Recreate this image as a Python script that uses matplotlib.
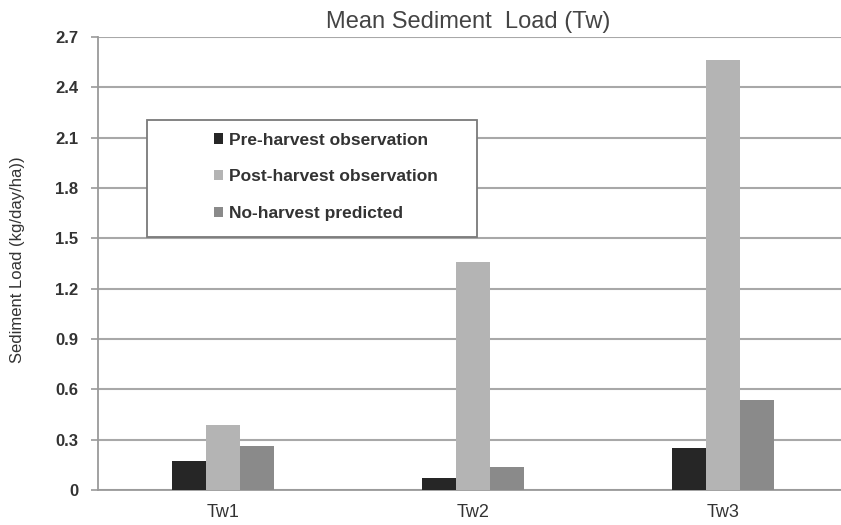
import numpy as np
import matplotlib.pyplot as plt
from matplotlib.patches import Rectangle

plt.rcParams['font.family'] = ['Liberation Sans', 'DejaVu Sans']

categories = ['Tw1', 'Tw2', 'Tw3']
series_names = ['Pre-harvest observation', 'Post-harvest observation', 'No-harvest predicted']
pre_harvest = [0.175, 0.07, 0.25]
post_harvest = [0.387, 1.36, 2.563]
no_harvest = [0.262, 0.139, 0.536]
yticks = [0, 0.3, 0.6, 0.9, 1.2, 1.5, 1.8, 2.1, 2.4, 2.7]
ytick_labels = ['0', '0.3', '0.6', '0.9', '1.2', '1.5', '1.8', '2.1', '2.4', '2.7']

colors = ['#262626', '#b4b4b4', '#8a8a8a']

W, H = 841, 525
fig = plt.figure(figsize=(W / 100, H / 100), dpi=100)
ax = fig.add_axes([98 / W, 35 / H, 750 / W, 453 / H])

x = np.arange(len(categories))
bw = 0.137
for i, vals in enumerate([pre_harvest, post_harvest, no_harvest]):
    ax.bar(x + (i - 1) * bw, vals, width=bw, color=colors[i],
           label=series_names[i], zorder=3)

ax.set_xlim(-0.5, 2.5)
ax.set_ylim(0, 2.7)
ax.set_yticks(yticks)
ax.set_yticklabels(ytick_labels, fontsize=12, fontweight='bold', color='#333333')
ax.set_xticks(x)
ax.set_xticklabels(categories, fontsize=13, color='#333333')
ax.tick_params(axis='x', length=0, pad=10)
ax.tick_params(axis='y', length=5, width=1.2, color='#9a9a9a', pad=9)
ax.grid(axis='y', color='#a8a8a8', linewidth=1.5, zorder=0)

for s in ['top', 'right']:
    ax.spines[s].set_visible(False)
for s in ['left', 'bottom']:
    ax.spines[s].set_color('#9a9a9a')
    ax.spines[s].set_linewidth(1.3)

fig.text(18 / W, 1 - 260 / H, 'Sediment Load (kg/day/ha))', fontsize=12,
         color='#333333', rotation=90, ha='center', va='center')

fig.text(468 / W, 1 - 22 / H, 'Mean Sediment  Load (Tw)', fontsize=17,
         color='#444444', ha='center', va='center')

# legend box
fig.patches.append(Rectangle((147 / W, 1 - 237 / H), 330 / W, 117 / H,
                             transform=fig.transFigure, facecolor='white',
                             edgecolor='#7a7a7a', linewidth=1.3, zorder=5))
leg = fig.legend(loc='upper left', bbox_to_anchor=(205 / W, 1 - 124 / H),
                 frameon=False, borderpad=0, handlelength=0.55, handleheight=0.55,
                 handletextpad=0.35, labelspacing=1.25,
                 prop={'size': 12.5, 'weight': 'bold'})
leg.set_zorder(6)
for t in leg.get_texts():
    t.set_color('#333333')

fig.savefig('out.png', dpi=100)
